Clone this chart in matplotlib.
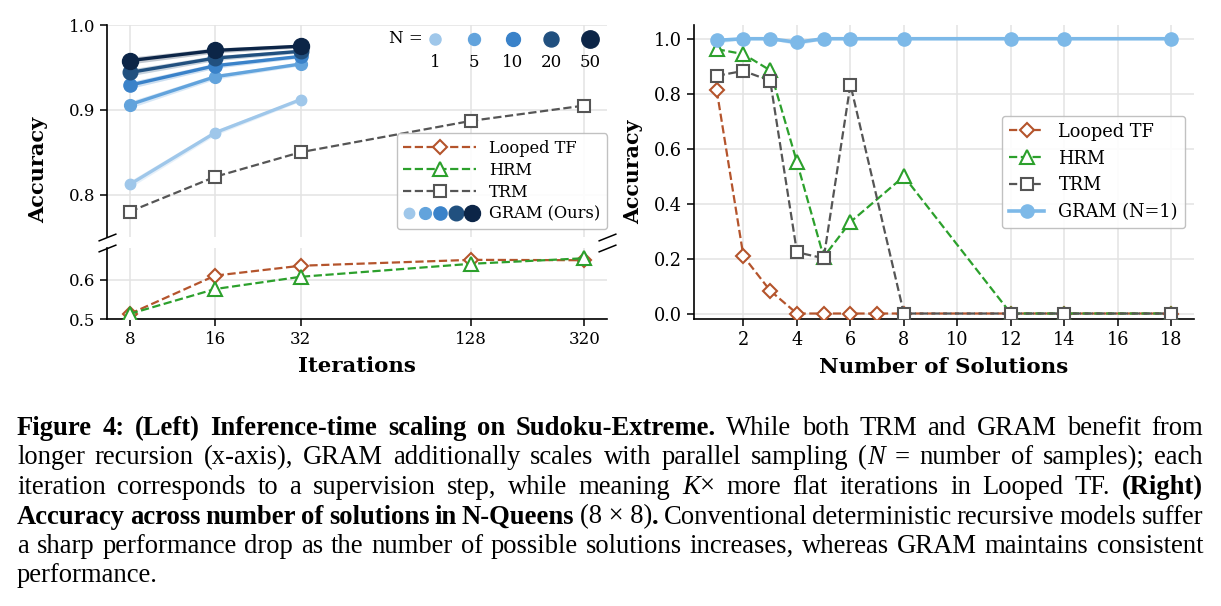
import numpy as np
import matplotlib
matplotlib.use("Agg")
import matplotlib.pyplot as plt
from matplotlib.lines import Line2D
from matplotlib.legend_handler import HandlerBase
from matplotlib.offsetbox import AnchoredOffsetbox, HPacker, VPacker, TextArea, DrawingArea
from matplotlib.ticker import NullLocator

# ---------------- data: left panel (Sudoku-Extreme) ----------------
iters = [8, 16, 32, 128, 320]
iter_labels = ["8", "16", "32", "128", "320"]
gram_iters = [8, 16, 32]
n_samples = [1, 5, 10, 20, 50]
gram_n1 = [0.812, 0.873, 0.912]
gram_n5 = [0.906, 0.939, 0.954]
gram_n10 = [0.929, 0.952, 0.963]
gram_n20 = [0.944, 0.961, 0.969]
gram_n50 = [0.958, 0.970, 0.975]
gram_err = [0.004, 0.003, 0.002]
looped_left = [0.513, 0.610, 0.635, 0.650, 0.649]
hrm_left = [0.513, 0.576, 0.607, 0.640, 0.654]
trm_left = [0.780, 0.821, 0.850, 0.887, 0.905]

# ---------------- data: right panel (N-Queens) ----------------
sol_x = [1, 2, 3, 4, 5, 6, 8, 12, 14, 18]
looped_x = [1, 2, 3, 4, 5, 6, 7, 8, 12, 14, 18]
looped_right = [0.812, 0.208, 0.083, 0.0, 0.0, 0.0, 0.0, 0.0, 0.0, 0.0, 0.0]
hrm_right = [0.962, 0.944, 0.885, 0.551, 0.206, 0.333, 0.499, 0.0, 0.0, 0.0]
trm_right = [0.865, 0.883, 0.847, 0.223, 0.201, 0.833, 0.0, 0.0, 0.0, 0.0]
gram_right = [0.994, 1.0, 1.0, 0.987, 1.0, 1.0, 1.0, 1.0, 1.0, 1.0]
gram_right_err = [0.010, 0.003, 0.003, 0.010, 0.003, 0.003, 0.003, 0.003, 0.003, 0.003]

# ---------------- style ----------------
C_LOOP = "#b4542c"
C_HRM = "#2ca02c"
C_TRM = "#555555"
C_GRAM_R = "#7db9e8"
gram_colors = ["#9fc7ea", "#62a3dc", "#3a82c9", "#21507f", "#0c2547"]
gram_sizes = [7.5, 8.5, 9.5, 10.5, 11.5]
gram_series = [gram_n1, gram_n5, gram_n10, gram_n20, gram_n50]

plt.rcParams["font.family"] = "DejaVu Serif"
W, H = 1221, 606
fig = plt.figure(figsize=(W / 100, H / 100), dpi=100)


def px_axes(x0, y0, x1, y1, **kw):
    return fig.add_axes([x0 / W, 1 - y1 / H, (x1 - x0) / W, (y1 - y0) / H], **kw)


ax_top = px_axes(107, 25, 607, 237)
ax_bot = px_axes(107, 248, 607, 319, sharex=ax_top)
ax_r = px_axes(694, 25, 1194, 319)

GRID = dict(color="#e3e3e3", linewidth=1.1)
for ax in (ax_top, ax_bot, ax_r):
    ax.spines["top"].set_visible(False)
    ax.spines["right"].set_visible(False)
    for s in ("left", "bottom"):
        ax.spines[s].set_linewidth(1.2)
    ax.set_axisbelow(True)
    ax.grid(True, **GRID)
    ax.tick_params(direction="out", length=5, width=1.1)

ax_top.spines["bottom"].set_visible(False)
ax_bot.spines["top"].set_visible(False)

# ---------------- left panel ----------------
for ax in (ax_top, ax_bot):
    l_loop, = ax.plot(iters, looped_left, "--", color=C_LOOP, lw=1.6, marker="D", ms=7,
                      mfc="white", mec=C_LOOP, mew=1.5, label="Looped TF", zorder=3)
    l_hrm, = ax.plot(iters, hrm_left, "--", color=C_HRM, lw=1.6, marker="^", ms=9.5,
                     mfc="white", mec=C_HRM, mew=1.5, label="HRM", zorder=4)
    l_trm, = ax.plot(iters, trm_left, "--", color=C_TRM, lw=1.6, marker="s", ms=8.5,
                     mfc="white", mec=C_TRM, mew=1.5, label="TRM", zorder=3)
    for i, (vals, c, ms) in enumerate(zip(gram_series, gram_colors, gram_sizes)):
        v = np.array(vals)
        e = np.array(gram_err)
        ax.fill_between(gram_iters, v - e, v + e, color=c, alpha=0.25, lw=0, zorder=4 + i)
        ax.plot(gram_iters, vals, "-", color=c, lw=2.4, marker="o", ms=ms, zorder=5 + i)
    if ax is ax_top:
        legend_lines = [l_loop, l_hrm, l_trm]

ax_top.set_xscale("log", base=2)
ax_top.set_xticks(iters, labels=iter_labels)
ax_top.xaxis.set_minor_locator(NullLocator())
ax_top.set_ylim(0.75, 1.0)
ax_top.set_yticks([0.8, 0.9, 1.0])
ax_bot.set_ylim(0.5, 0.68)
ax_bot.set_yticks([0.5, 0.6])
ax_top.tick_params(axis="x", bottom=False, labelbottom=False)
for ax in (ax_top, ax_bot):
    ax.tick_params(labelsize=12)
ax_bot.set_xlabel("Iterations", fontsize=15.3, fontweight="bold", labelpad=6)
fig.text(38 / W, 1 - 170 / H, "Accuracy", rotation=90, ha="center", va="center",
         fontsize=15, fontweight="bold")

# break marks
bk = dict(marker=[(-1, -0.4), (1, 0.4)], markersize=13, linestyle="none",
          color="k", mec="k", mew=1.1, clip_on=False)
ax_top.plot([0, 1], [0, 0], transform=ax_top.transAxes, **bk)
ax_bot.plot([0, 1], [1, 1], transform=ax_bot.transAxes, **bk)


class MultiDotHandler(HandlerBase):
    def __init__(self, colors, sizes):
        super().__init__()
        self.colors = colors
        self.sizes = sizes

    def create_artists(self, legend, orig_handle, xdescent, ydescent, width, height,
                       fontsize, trans):
        arts = []
        n = len(self.colors)
        for i, (c, s) in enumerate(zip(self.colors, self.sizes)):
            x = -xdescent + width * (0.08 + 0.86 * i / (n - 1))
            y = -ydescent + height / 2
            arts.append(Line2D([x], [y], marker="o", ms=s, color=c, ls="", transform=trans))
        return arts


gram_proxy = Line2D([], [], marker="o", ls="")
leg = ax_top.legend(legend_lines + [gram_proxy], ["Looped TF", "HRM", "TRM", "GRAM (Ours)"],
                    handler_map={gram_proxy: MultiDotHandler(gram_colors, gram_sizes)},
                    loc="lower right", bbox_to_anchor=(1.0, 0.038), borderaxespad=0,
                    fontsize=11.7, handlelength=4.5, labelspacing=0.3,
                    framealpha=0.9, edgecolor="#bbbbbb")
leg.set_zorder(20)

# N = legend (sample count key)
cols = []
na = DrawingArea(32, 16, 0, 0)
na.add_artist(matplotlib.text.Text(41, 8, "N =", ha="right", va="center", fontsize=12))
cols.append(VPacker(children=[na, TextArea(" ", textprops=dict(fontsize=12))],
                    align="center", pad=0, sep=2))
for n, c, ms in zip(n_samples, gram_colors, [8, 8.6, 10, 10.8, 12.5]):
    da = DrawingArea(20, 16, 0, 0)
    da.add_artist(Line2D([10], [8], marker="o", ms=ms, color=c, ls=""))
    cols.append(VPacker(children=[da, TextArea(str(n), textprops=dict(fontsize=12))],
                        align="center", pad=0, sep=3))
key = AnchoredOffsetbox(loc="upper right", child=HPacker(children=cols, align="top", pad=0, sep=8),
                        pad=0, borderpad=0.2, frameon=False)
ax_top.add_artist(key)

# ---------------- right panel ----------------
ax_r.plot(looped_x, looped_right, "--", color=C_LOOP, lw=1.6, marker="D", ms=7,
          mfc="white", mec=C_LOOP, mew=1.5, label="Looped TF", zorder=3)
ax_r.plot(sol_x, hrm_right, "--", color=C_HRM, lw=1.6, marker="^", ms=9.5,
          mfc="white", mec=C_HRM, mew=1.5, label="HRM", zorder=4)
ax_r.plot(sol_x, trm_right, "--", color=C_TRM, lw=1.6, marker="s", ms=8.5,
          mfc="white", mec=C_TRM, mew=1.5, label="TRM", zorder=5)
gr = np.array(gram_right)
ge = np.array(gram_right_err)
ax_r.fill_between(sol_x, gr - ge, gr + ge, color=C_GRAM_R, alpha=0.25, lw=0, zorder=6)
ax_r.plot(sol_x, gram_right, "-", color=C_GRAM_R, lw=2.6, marker="o", ms=9.5,
          label="GRAM (N=1)", zorder=7)
ax_r.set_xticks([2, 4, 6, 8, 10, 12, 14, 16, 18])
ax_r.set_yticks([0.0, 0.2, 0.4, 0.6, 0.8, 1.0])
ax_r.set_ylim(-0.02, 1.05)
ax_r.tick_params(labelsize=12.8)
ax_r.set_xlabel("Number of Solutions", fontsize=15.4, fontweight="bold", labelpad=6)
ax_r.set_ylabel("Accuracy", fontsize=14.8, fontweight="bold")
ax_r.yaxis.set_label_coords((643 - 694) / 500, 0.5)
lr = ax_r.legend(loc="center right", fontsize=12.8, framealpha=0.9, edgecolor="#bbbbbb")
lr.set_zorder(20)

# ---------------- caption ----------------
CAP_FAMILY = "Liberation Serif"
cap_lines = [
    [("Figure 4: (Left) Inference-time scaling on Sudoku-Extreme.", "b"),
     (" While both TRM and GRAM benefit from", "r")],
    [("longer recursion (x-axis), GRAM additionally scales with parallel sampling (", "r"),
     ("N", "i"), (" = number of samples); each", "r")],
    [("iteration corresponds to a supervision step, while meaning ", "r"), ("K", "i"),
     ("\u00d7 more flat iterations in Looped TF. ", "r"), ("(Right)", "b")],
    [("Accuracy across number of solutions in N-Queens", "b"), (" (8\u00a0\u00d7\u00a08)", "r"),
     (".", "b"), (" Conventional deterministic recursive models suffer", "r")],
    [("a sharp performance drop as the number of possible solutions increases, whereas GRAM maintains consistent", "r")],
    [("performance.", "r")],
]
cap_x0, cap_x1 = 17, 1203
cap_base0, cap_step = 435, 29.5

renderer = fig.canvas.get_renderer()

# fit the caption size so that a full line of plain text spans the text width
probe = fig.text(0, 0, cap_lines[4][0][0], fontsize=10, family=CAP_FAMILY)
probe_w = probe.get_window_extent(renderer).width
probe.remove()
CAP_FS = 10 * (cap_x1 - cap_x0) / probe_w * 0.985


def words_of(runs):
    words = [[]]
    for text, st in runs:
        parts = text.split(" ")
        for i, p in enumerate(parts):
            if i > 0:
                words.append([])
            if p:
                words[-1].append((p, st))
    return [w for w in words if w]


space_t = fig.text(0, 0, "a a", fontsize=CAP_FS, family=CAP_FAMILY)
aa_t = fig.text(0, 0, "aa", fontsize=CAP_FS, family=CAP_FAMILY)
space_w = space_t.get_window_extent(renderer).width - aa_t.get_window_extent(renderer).width
space_t.remove()
aa_t.remove()

for li, runs in enumerate(cap_lines):
    ybase = 1 - (cap_base0 + li * cap_step) / H
    words = words_of(runs)
    word_arts = []
    word_ws = []
    for w in words:
        arts = []
        tot = 0
        for text, st in w:
            t = fig.text(0, ybase, text, fontsize=CAP_FS, family=CAP_FAMILY, va="baseline",
                         fontweight="bold" if st == "b" else "normal",
                         fontstyle="italic" if st == "i" else "normal")
            wpx = t.get_window_extent(renderer).width
            arts.append((t, wpx))
            tot += wpx
        word_arts.append(arts)
        word_ws.append(tot)
    last = li == len(cap_lines) - 1
    if last or len(words) < 2:
        gap = space_w
    else:
        gap = (cap_x1 - cap_x0 - sum(word_ws)) / (len(words) - 1)
    x = cap_x0
    for arts, tw in zip(word_arts, word_ws):
        xx = x
        for t, wpx in arts:
            t.set_x(xx / W)
            xx += wpx
        x += tw + gap

fig.savefig("out.png", dpi=100)
